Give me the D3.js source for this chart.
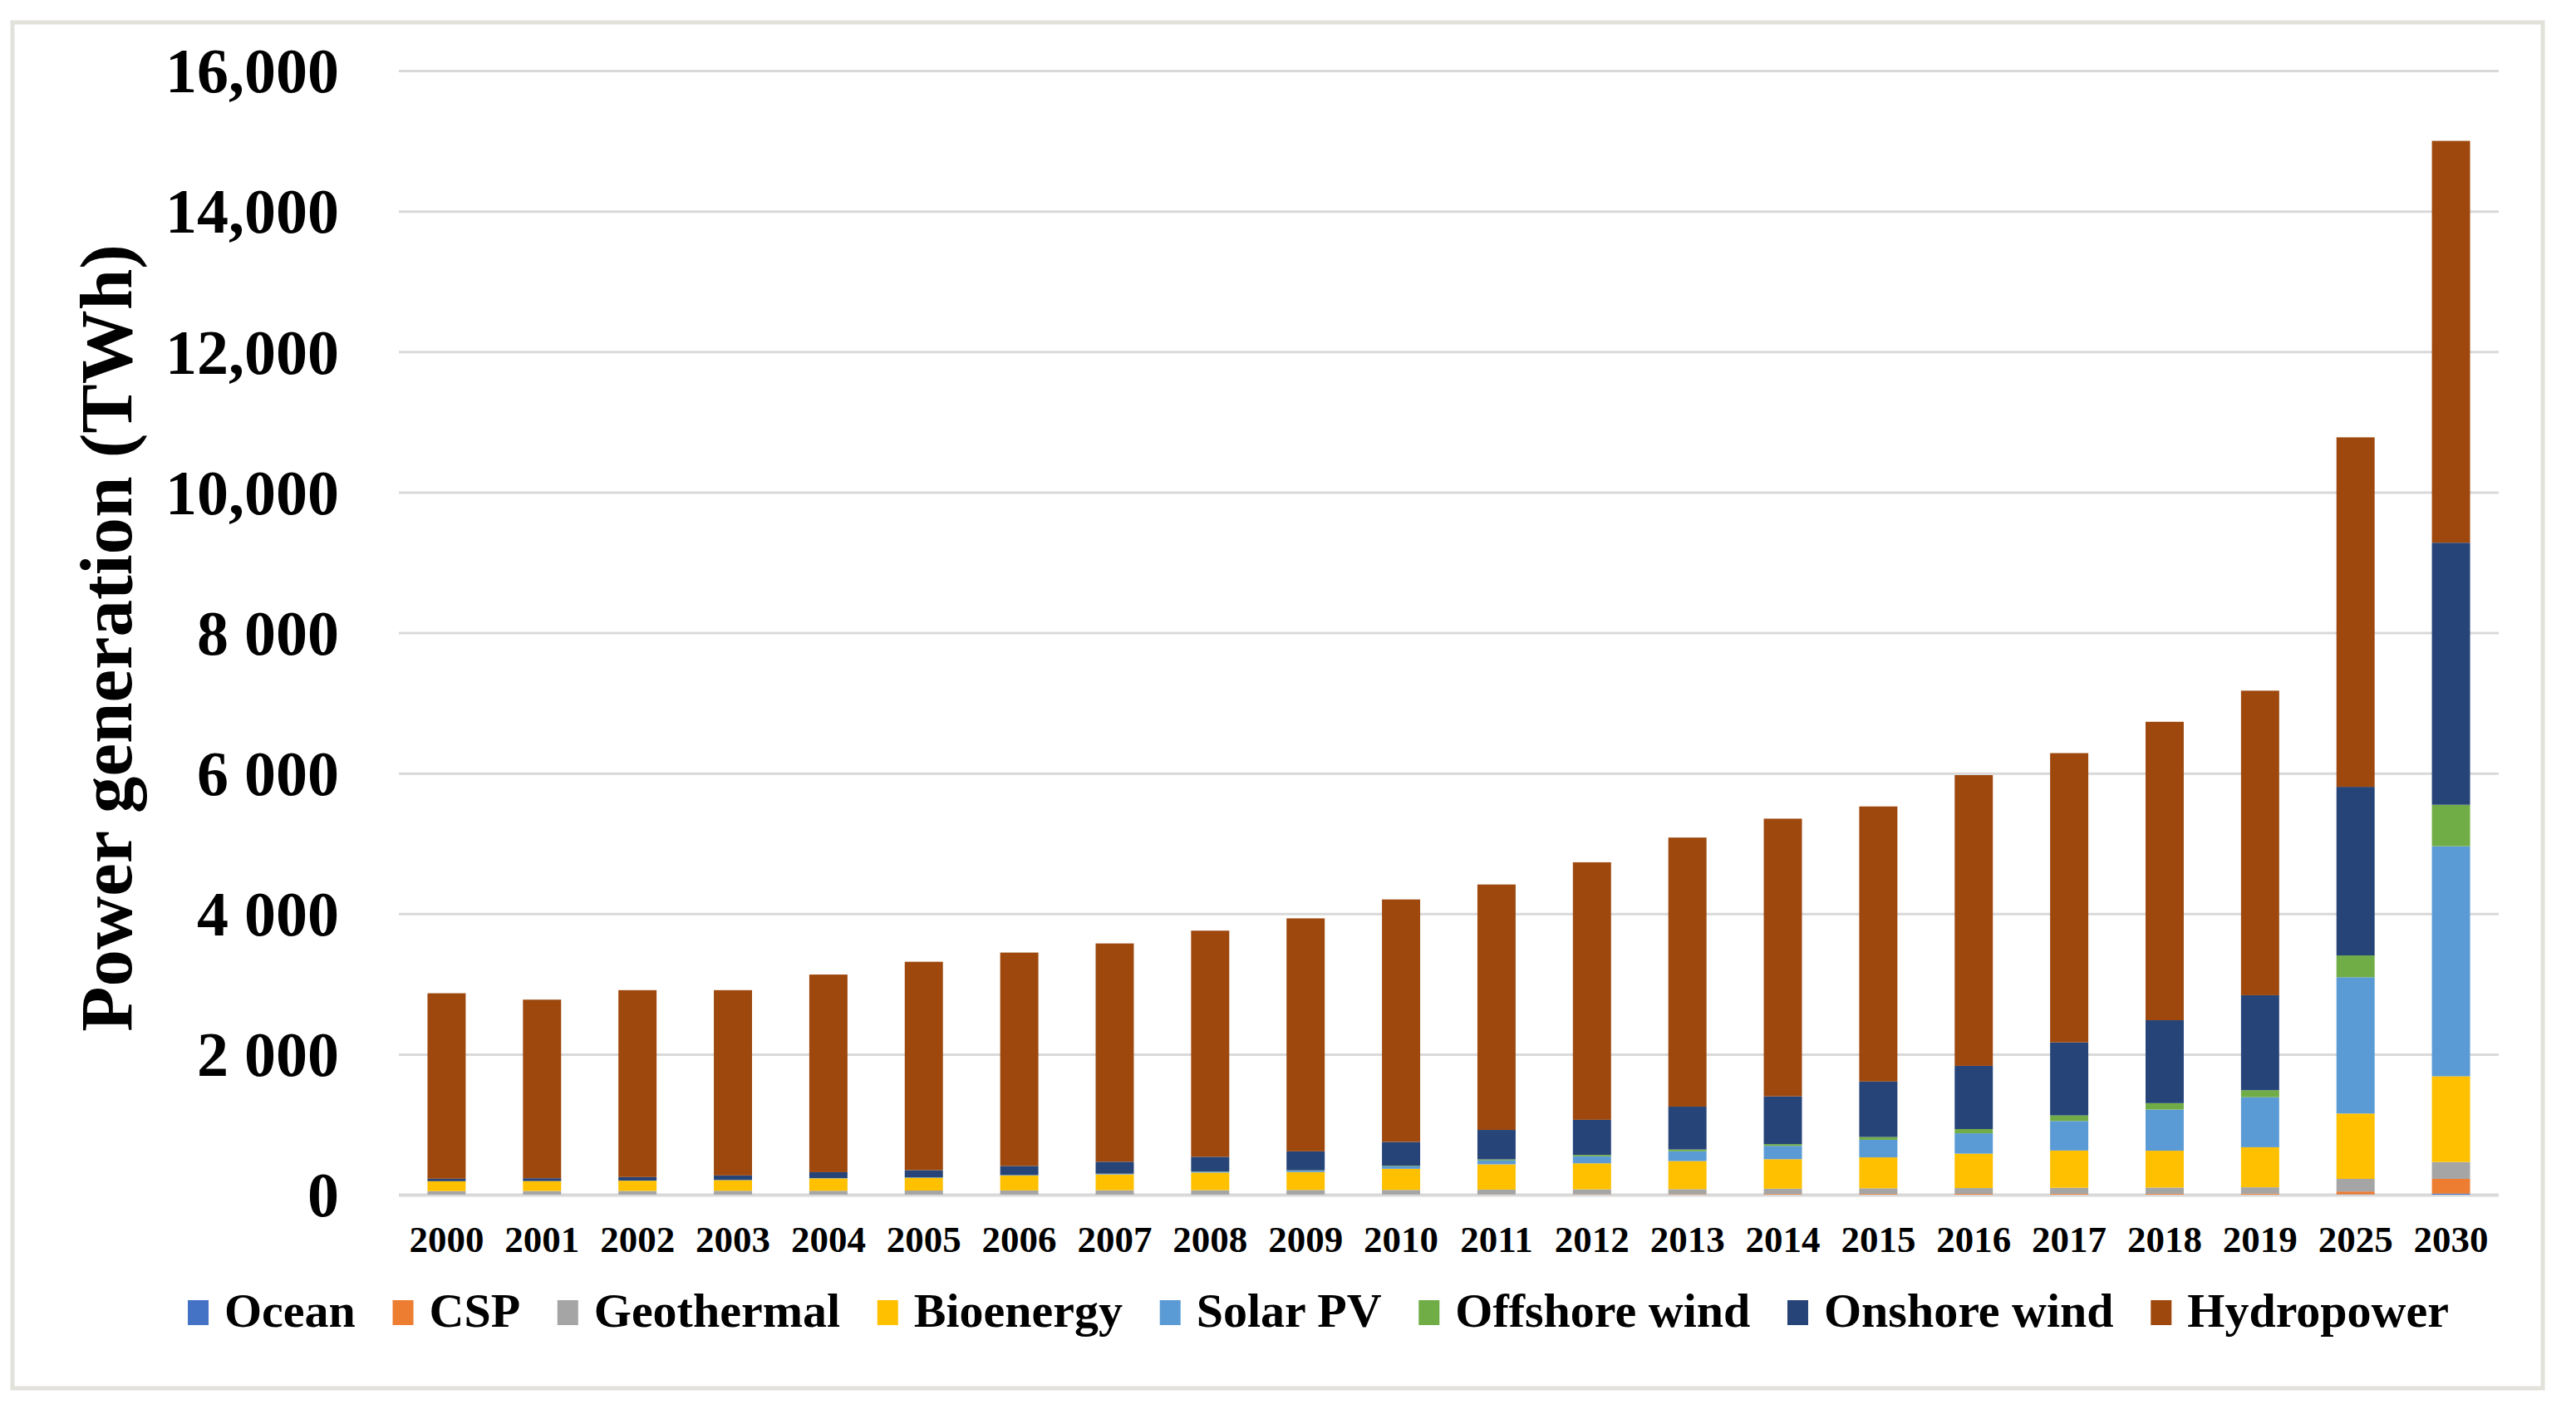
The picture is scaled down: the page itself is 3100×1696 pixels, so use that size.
<!DOCTYPE html>
<html>
<head>
<meta charset="utf-8">
<script src="https://cdn.jsdelivr.net/npm/d3@7"></script>
<style>
  body { margin: 0; background: #fff; }
  svg text { font-family: "Liberation Serif", "Times New Roman", serif; font-weight: bold; fill: #000; }
</style>
</head>
<body>
<svg id="chart" width="3100" height="1696"></svg>
<script>
// categories
var years = ['2000', '2001', '2002', '2003', '2004', '2005', '2006', '2007', '2008', '2009', '2010',
  '2011', '2012', '2013', '2014', '2015', '2016', '2017', '2018', '2019', '2025', '2030'];

// series values (TWh)
var ocean        = [0, 0, 0, 0, 0, 0, 0, 0, 0, 0, 1, 1, 1, 1, 1, 1, 1, 1, 1, 1, 5, 15];
var csp          = [1, 1, 1, 1, 1, 1, 1, 1, 2, 2, 2, 3, 5, 7, 9, 10, 11, 12, 12, 14, 40, 210];
var geothermal   = [50, 52, 53, 55, 55, 58, 60, 62, 62, 65, 65, 68, 70, 70, 75, 80, 82, 85, 88, 90, 180, 240];
var bioenergy    = [140, 140, 145, 150, 175, 180, 210, 225, 250, 255, 300, 360, 370, 400, 420, 440, 490, 530, 525, 570, 930, 1220];
var solarPV      = [1, 1, 2, 2, 3, 4, 5, 8, 12, 20, 35, 55, 100, 140, 190, 250, 290, 420, 585, 712, 1940, 3275];
var offshoreWind = [0, 0, 0, 1, 1, 2, 3, 3, 3, 5, 8, 15, 20, 25, 25, 40, 60, 80, 92, 100, 310, 590];
var onshoreWind  = [35, 40, 50, 65, 85, 104, 130, 170, 210, 270, 340, 420, 500, 610, 680, 790, 900, 1040, 1180, 1352, 2400, 3730];
var hydropower   = [2640, 2542, 2660, 2637, 2813, 2966, 3037, 3107, 3219, 3316, 3451, 3493, 3665, 3830, 3952, 3915, 4138, 4117, 4248, 4335, 4975, 5720];

var seriesNames = ['Ocean', 'CSP', 'Geothermal', 'Bioenergy', 'Solar PV', 'Offshore wind', 'Onshore wind', 'Hydropower'];
var seriesValues = [ocean, csp, geothermal, bioenergy, solarPV, offshoreWind, onshoreWind, hydropower];
var seriesColors = ['#4472C4', '#ED7D31', '#A5A5A5', '#FFC000', '#5B9BD5', '#70AD47', '#264478', '#9E480E'];

// tick labels
var yTicks = [0, 2000, 4000, 6000, 8000, 10000, 12000, 14000, 16000];
var yTickLabels = ['0', '2 000', '4 000', '6 000', '8 000', '10,000', '12,000', '14,000', '16,000'];
var yTitle = 'Power generation (TWh)';

var W = 3100, H = 1696;
var plot = { left: 480, right: 3007, top: 85, bottom: 1438 };

var svg = d3.select('#chart');

svg.append('rect').attr('width', W).attr('height', H).attr('fill', '#fff');

// figure frame
svg.append('rect')
  .attr('x', 15).attr('y', 27)
  .attr('width', 3045).attr('height', 1644)
  .attr('fill', 'none')
  .attr('stroke', '#E2E1DA')
  .attr('stroke-width', 5);

// table for d3.stack
var table = years.map(function (yr, i) {
  var row = { year: yr };
  seriesNames.forEach(function (name, s) { row[name] = seriesValues[s][i]; });
  return row;
});

var x = d3.scaleBand()
  .domain(years)
  .range([plot.left, plot.right])
  .paddingInner(0.6)
  .paddingOuter(0.3);

var y = d3.scaleLinear()
  .domain([0, 16000])
  .range([plot.bottom, plot.top]);

var color = d3.scaleOrdinal().domain(seriesNames).range(seriesColors);

// y axis with gridlines
var yAxis = svg.append('g')
  .attr('transform', 'translate(' + plot.left + ',0)')
  .call(d3.axisLeft(y)
    .tickValues(yTicks)
    .tickSize(-(plot.right - plot.left))
    .tickPadding(72)
    .tickFormat(function (d, i) { return yTickLabels[i]; }));

yAxis.select('.domain').remove();
yAxis.selectAll('.tick line')
  .attr('stroke', '#D9D9D9')
  .attr('stroke-width', function (d) { return d === 0 ? 4 : 3; });
yAxis.selectAll('.tick text')
  .attr('font-size', 76)
  .attr('dy', '0.34em');

// stacked bars
var stacked = d3.stack().keys(seriesNames)(table);

svg.append('g')
  .selectAll('g')
  .data(stacked)
  .enter().append('g')
  .attr('fill', function (d) { return color(d.key); })
  .selectAll('rect')
  .data(function (d) { return d; })
  .enter().append('rect')
  .attr('x', function (d) { return x(d.data.year); })
  .attr('y', function (d) { return y(d[1]); })
  .attr('width', x.bandwidth())
  .attr('height', function (d) { return Math.max(0, y(d[0]) - y(d[1])); });

// x axis labels
var xAxis = svg.append('g')
  .attr('transform', 'translate(0,' + plot.bottom + ')')
  .call(d3.axisBottom(x).tickSize(0).tickPadding(37));

xAxis.select('.domain').remove();
xAxis.selectAll('.tick text').attr('font-size', 45);

// y title
svg.append('text')
  .attr('transform', 'translate(158,768) rotate(-90)')
  .attr('text-anchor', 'middle')
  .attr('font-size', 89)
  .text(yTitle);

// legend, spread between the measured ends
var legendLeft = 226, legendRight = 2947, legendBaseline = 1597;
var markerW = 25, markerH = 30, markerGap = 19;

var legend = svg.append('g').attr('class', 'legend');
var items = legend.selectAll('g')
  .data(seriesNames)
  .enter().append('g');

items.append('rect')
  .attr('width', markerW)
  .attr('height', markerH)
  .attr('y', legendBaseline - 32)
  .attr('fill', function (d) { return color(d); });

items.append('text')
  .attr('x', markerW + markerGap)
  .attr('y', legendBaseline)
  .attr('font-size', 58)
  .text(function (d) { return d; });

var widths = [];
items.each(function () {
  widths.push(markerW + markerGap + d3.select(this).select('text').node().getComputedTextLength());
});
var gap = (legendRight - legendLeft - d3.sum(widths)) / (widths.length - 1);
var cursor = legendLeft;
items.attr('transform', function (d, i) {
  var t = 'translate(' + cursor + ',0)';
  cursor += widths[i] + gap;
  return t;
});
</script>
</body>
</html>
